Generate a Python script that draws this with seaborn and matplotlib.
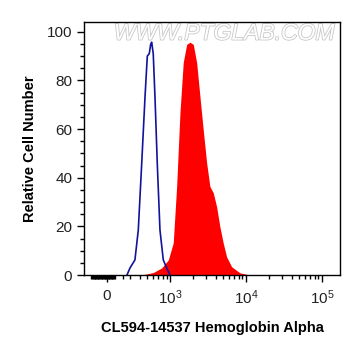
import numpy as np
import pandas as pd
import matplotlib
matplotlib.use('Agg')
import matplotlib.pyplot as plt
import matplotlib.ticker as mticker
import matplotlib.patheffects as pe
import seaborn as sns

# ── DATA ────────────────────────────────────────────────────
# isotype control (blue outline)
ctrl_x = [257, 296, 345, 382, 424, 468, 502, 533, 556, 573,
          601, 634, 679, 737, 815, 903, 997]
ctrl_y = [0, 2.9, 6.2, 18.5, 46, 73, 90, 91, 94.8, 95.7,
          91, 73, 46, 18.5, 6.2, 2.9, 0]

# CL594-14537 stained (red fill)
stain_x = [400, 468, 600, 776, 949, 1102, 1222, 1351, 1493, 1656, 1829,
           2023, 2240, 2478, 2736, 3035, 3350, 3707, 4104, 4530, 5013,
           5556, 6474, 8318, 11280]
stain_y = [0, 0.3, 1.0, 2.9, 6.2, 13.2, 36.4, 66.7, 87.4, 94.8, 95.7,
           94.8, 87.4, 73.3, 59.7, 46.1, 36.4, 33.8, 28.1, 19.9, 13.2,
           7.5, 3.4, 0.9, 0]

x_major = [0, 1e3, 1e4, 1e5]
x_labels = ['0', r'$10^{3}$', r'$10^{4}$', r'$10^{5}$']
y_major = [0, 20, 40, 60, 80, 100]

ctrl = pd.DataFrame({'x': ctrl_x, 'y': ctrl_y})
stain = pd.DataFrame({'x': stain_x, 'y': stain_y})

sns.set_style('ticks')
plt.rcParams['font.family'] = ['Liberation Sans', 'DejaVu Sans']
plt.rcParams['mathtext.fontset'] = 'custom'
plt.rcParams['mathtext.rm'] = 'Liberation Sans'
plt.rcParams['mathtext.it'] = 'Liberation Sans'
plt.rcParams['text.color'] = 'black'
plt.rcParams['axes.labelcolor'] = 'black'

fig = plt.figure(figsize=(3.61, 3.56), dpi=100)
ax = fig.add_axes([0.2327, 0.2275, 0.7091, 0.7107])
# linear part 0..300 spans ~0.31 decade, like the cytometer's display
ax.set_xscale('symlog', linthresh=300, linscale=0.2763)

ax.fill_between(stain['x'], stain['y'], color='#ff0000', linewidth=0, zorder=2)
sns.lineplot(data=ctrl, x='x', y='y', color='#12129c', linewidth=1.2,
             ax=ax, zorder=3, sort=False)

ax.set_xlim(-296, 1.73e5)
ax.set_ylim(0, 104)

ax.set_xticks(x_major)
ax.set_xticklabels(x_labels)
minors = [v for v in range(-200, 100, 10) if v != 0]
minors += list(range(100, 1000, 100))
minors += [m * 10 ** e for e in (3, 4) for m in range(2, 10)]
ax.xaxis.set_minor_locator(mticker.FixedLocator(minors))
ax.set_yticks(y_major)
ax.yaxis.set_minor_locator(mticker.MultipleLocator(5))

ax.tick_params(axis='both', which='major', length=5, width=1, labelsize=11,
               colors='black', labelcolor='#222222')
ax.tick_params(axis='both', which='minor', length=3, width=1, colors='black')
ax.tick_params(axis='x', which='major', pad=5)

for sp in ax.spines.values():
    sp.set_color('black')
    sp.set_linewidth(1)

ax.set_xlabel('CL594-14537 Hemoglobin Alpha', fontsize=10.5, fontweight='bold',
              labelpad=10)
ax.set_ylabel('Relative Cell Number', fontsize=10.5, fontweight='bold',
              labelpad=7)

ax.text(0.547, 0.956, 'WWW.PTGLAB.COM', transform=ax.transAxes, ha='center',
        va='center', fontsize=16.5, fontstyle='italic', color='white',
        zorder=1,
        path_effects=[pe.withStroke(linewidth=1.2, foreground='#c8c8c8')])

fig.savefig('out.png', dpi=100)
